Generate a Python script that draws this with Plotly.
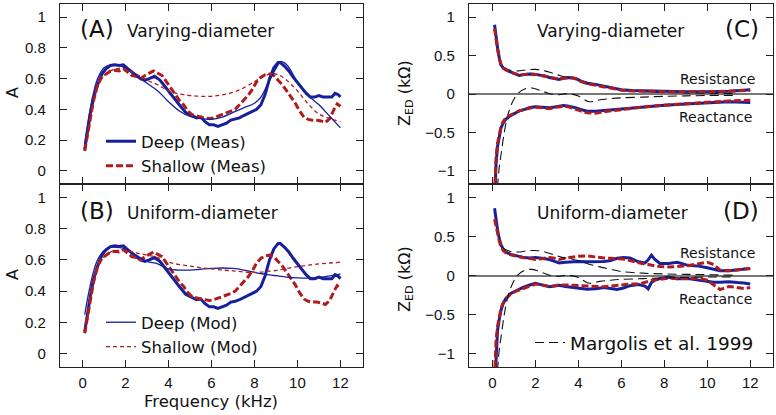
import plotly.graph_objects as go

W, H = 776, 415

# ---------------- Absorbance (panels A, B) ----------------
f_deep_meas = [0.1, 0.2, 0.35, 0.5, 0.7, 0.9, 1.1, 1.3, 1.5, 1.7, 1.9, 2.1, 2.3, 2.5, 2.7, 2.9,
               3.1, 3.35, 3.6, 3.9, 4.2, 4.5, 4.8, 5.1, 5.3, 5.5, 5.7, 5.9, 6.1, 6.3, 6.5, 6.7,
               6.9, 7.1, 7.3, 7.5, 7.7, 7.9, 8.1, 8.3, 8.5, 8.7, 8.9, 9.1, 9.2, 9.4, 9.6, 9.8,
               10.0, 10.2, 10.4, 10.6, 10.8, 11.0, 11.2, 11.4, 11.6, 11.75, 11.9, 12.0]
a_deep_meas = [0.14, 0.24, 0.36, 0.47, 0.56, 0.63, 0.665, 0.685, 0.69, 0.685, 0.69, 0.665, 0.64,
               0.62, 0.60, 0.59, 0.60, 0.615, 0.59, 0.535, 0.48, 0.43, 0.38, 0.36, 0.345, 0.35,
               0.32, 0.30, 0.30, 0.29, 0.30, 0.31, 0.33, 0.335, 0.345, 0.36, 0.375, 0.385, 0.40,
               0.43, 0.50, 0.60, 0.67, 0.705, 0.705, 0.68, 0.65, 0.61, 0.575, 0.54, 0.505, 0.48,
               0.48, 0.49, 0.48, 0.48, 0.48, 0.505, 0.495, 0.48]

f_shal_meas = [0.1, 0.2, 0.35, 0.5, 0.7, 0.9, 1.1, 1.3, 1.5, 1.7, 1.9, 2.1, 2.3, 2.5, 2.7, 2.9,
               3.1, 3.3, 3.5, 3.7, 3.9, 4.1, 4.3, 4.5, 4.7, 4.9, 5.1, 5.3, 5.5, 5.7, 5.9, 6.1,
               6.3, 6.5, 6.7, 6.9, 7.1, 7.3, 7.5, 7.7, 7.9, 8.1, 8.3, 8.5, 8.7, 8.9, 9.1, 9.3,
               9.5, 9.7, 9.9, 10.1, 10.3, 10.5, 10.7, 10.9, 11.1, 11.3, 11.5, 11.7, 11.85, 12.0]
a_shal_meas = [0.13, 0.2, 0.33, 0.45, 0.56, 0.61, 0.63, 0.65, 0.655, 0.65, 0.665, 0.64, 0.62,
               0.615, 0.60, 0.62, 0.635, 0.65, 0.635, 0.62, 0.58, 0.54, 0.50, 0.46, 0.43, 0.39,
               0.365, 0.355, 0.35, 0.345, 0.34, 0.345, 0.355, 0.37, 0.375, 0.385, 0.40, 0.43,
               0.46, 0.49, 0.53, 0.58, 0.61, 0.625, 0.63, 0.62, 0.59, 0.56, 0.52, 0.48, 0.44,
               0.39, 0.35, 0.335, 0.33, 0.33, 0.325, 0.315, 0.34, 0.40, 0.435, 0.42]

f_model = [0.1, 0.3, 0.5, 0.7, 1.0, 1.3, 1.6, 2.0, 2.5, 3.0, 3.5, 4.0, 4.5, 5.0, 5.5, 6.0,
           6.5, 7.0, 7.5, 8.0, 8.3, 8.6, 8.9, 9.1, 9.25, 9.5, 10.0, 10.5, 11.0, 11.5, 12.0]
a_deep_vary = [0.18, 0.36, 0.50, 0.60, 0.67, 0.69, 0.69, 0.67, 0.62, 0.57, 0.52, 0.45, 0.39,
               0.355, 0.34, 0.335, 0.35, 0.38, 0.41, 0.44, 0.48, 0.56, 0.64, 0.69, 0.71, 0.69,
               0.58, 0.49, 0.43, 0.355, 0.28]
a_shal_vary = [0.14, 0.30, 0.44, 0.55, 0.62, 0.65, 0.665, 0.66, 0.63, 0.59, 0.56, 0.52, 0.50,
               0.49, 0.485, 0.485, 0.495, 0.51, 0.54, 0.58, 0.605, 0.625, 0.632, 0.625, 0.615,
               0.59, 0.52, 0.435, 0.37, 0.34, 0.32]
a_deep_unif = [0.25, 0.40, 0.52, 0.60, 0.66, 0.68, 0.68, 0.67, 0.63, 0.59, 0.575, 0.54, 0.535,
               0.535, 0.54, 0.545, 0.548, 0.545, 0.535, 0.52, 0.512, 0.505, 0.5, 0.497, 0.495,
               0.49, 0.485, 0.483, 0.487, 0.497, 0.51]
a_shal_unif = [0.14, 0.30, 0.44, 0.55, 0.62, 0.65, 0.66, 0.66, 0.645, 0.63, 0.615, 0.585, 0.57,
               0.56, 0.55, 0.543, 0.535, 0.53, 0.523, 0.52, 0.522, 0.526, 0.53, 0.534, 0.537,
               0.545, 0.557, 0.566, 0.574, 0.58, 0.585]

# ---------------- Impedance Z_ED (panels C, D), kOhm ----------------
f_z = [0.1, 0.17, 0.24, 0.32, 0.4, 0.5, 0.62, 0.8, 1.0, 1.25, 1.5, 1.75, 2.0, 2.2, 2.45, 2.65,
       2.9, 3.1, 3.3, 3.5, 3.7, 3.9, 4.1, 4.4, 4.8, 5.2, 5.6, 6.0, 6.5, 7.0, 8.0, 9.0, 10.0,
       11.0, 12.0]
r_deep_vary = [0.90, 0.72, 0.60, 0.47, 0.38, 0.34, 0.315, 0.29, 0.27, 0.24, 0.255, 0.26, 0.255,
               0.25, 0.235, 0.215, 0.20, 0.19, 0.205, 0.215, 0.21, 0.20, 0.17, 0.14, 0.125, 0.10,
               0.075, 0.055, 0.045, 0.04, 0.035, 0.03, 0.03, 0.035, 0.055]
r_shal_vary = [0.85, 0.70, 0.58, 0.46, 0.38, 0.34, 0.315, 0.29, 0.27, 0.245, 0.255, 0.26, 0.255,
               0.245, 0.23, 0.215, 0.205, 0.195, 0.205, 0.21, 0.21, 0.195, 0.165, 0.135, 0.115,
               0.095, 0.07, 0.05, 0.04, 0.035, 0.03, 0.03, 0.03, 0.035, 0.05]
x_deep_vary = [-1.45, -0.90, -0.68, -0.55, -0.44, -0.38, -0.33, -0.29, -0.26, -0.22, -0.20,
               -0.175, -0.165, -0.17, -0.18, -0.18, -0.17, -0.16, -0.15, -0.155, -0.165, -0.18,
               -0.20, -0.225, -0.225, -0.215, -0.205, -0.19, -0.18, -0.165, -0.145, -0.13,
               -0.115, -0.10, -0.11]
x_shal_vary = [-1.30, -0.82, -0.64, -0.52, -0.42, -0.36, -0.31, -0.28, -0.25, -0.22, -0.20,
               -0.18, -0.17, -0.175, -0.185, -0.19, -0.175, -0.165, -0.16, -0.165, -0.18, -0.20,
               -0.22, -0.245, -0.25, -0.23, -0.215, -0.2, -0.185, -0.17, -0.145, -0.125,
               -0.105, -0.09, -0.08]

f_zu = [0.1, 0.17, 0.24, 0.32, 0.4, 0.5, 0.62, 0.85, 1.1, 1.4, 1.7, 2.0, 2.3, 2.65, 2.9, 3.1,
        3.4, 3.7, 4.0, 4.4, 4.8, 5.2, 5.5, 5.8, 6.1, 6.4, 6.8, 7.1, 7.25, 7.4, 7.55, 7.8, 8.2,
        8.6, 9.1, 9.6, 10.0, 10.3, 10.6, 11.0, 11.4, 11.7, 12.0]
r_deep_unif = [0.86, 0.70, 0.58, 0.47, 0.39, 0.34, 0.30, 0.27, 0.25, 0.235, 0.225, 0.23, 0.22,
               0.205, 0.18, 0.16, 0.17, 0.175, 0.18, 0.175, 0.175, 0.18, 0.19, 0.22, 0.23,
               0.225, 0.175, 0.16, 0.20, 0.26, 0.21, 0.155, 0.155, 0.17, 0.13, 0.12, 0.10,
               0.08, 0.06, 0.06, 0.075, 0.08, 0.09]
r_shal_unif = [0.72, 0.62, 0.54, 0.44, 0.37, 0.32, 0.29, 0.265, 0.25, 0.23, 0.22, 0.205, 0.215,
               0.23, 0.22, 0.205, 0.22, 0.235, 0.245, 0.25, 0.235, 0.225, 0.22, 0.215, 0.21,
               0.19, 0.16, 0.145, 0.14, 0.13, 0.125, 0.115, 0.11, 0.115, 0.125, 0.15, 0.17,
               0.14, 0.07, 0.06, 0.07, 0.075, 0.09]
x_deep_unif = [-1.45, -0.95, -0.70, -0.56, -0.445, -0.36, -0.295, -0.23, -0.195, -0.155, -0.125,
               -0.10, -0.12, -0.145, -0.135, -0.125, -0.14, -0.15, -0.16, -0.175, -0.17, -0.155,
               -0.165, -0.18, -0.16, -0.13, -0.115, -0.135, -0.17, -0.09, -0.06, -0.04, -0.02,
               -0.04, -0.04, -0.06, -0.08, -0.085, -0.085, -0.08, -0.09, -0.095, -0.11]
x_shal_unif = [-1.30, -0.83, -0.65, -0.52, -0.42, -0.35, -0.30, -0.235, -0.2, -0.17, -0.14,
               -0.11, -0.12, -0.14, -0.13, -0.12, -0.12, -0.125, -0.13, -0.14, -0.145, -0.145,
               -0.135, -0.125, -0.12, -0.11, -0.11, -0.09, -0.075, -0.065, -0.055, -0.05,
               -0.035, -0.04, -0.04, -0.035, -0.06, -0.12, -0.18, -0.14, -0.155, -0.165, -0.155]

f_marg_r = [0.5, 0.8, 1.2, 1.6, 2.0, 2.4, 2.8, 3.2, 3.6, 4.0, 4.5, 5.0, 5.5, 6.0, 7.0, 8.0,
            9.0, 10.0, 11.2]
r_marg = [0.35, 0.31, 0.30, 0.315, 0.32, 0.305, 0.27, 0.235, 0.215, 0.19, 0.145, 0.11, 0.08,
          0.05, 0.03, 0.02, 0.015, 0.01, 0.005]
f_marg_x = [0.2, 0.3, 0.4, 0.56, 0.72, 0.95, 1.2, 1.5, 1.85, 2.2, 2.6, 3.0, 3.5, 4.0, 4.5, 5.0,
            5.5, 6.0, 7.0, 8.0, 9.0, 10.0, 11.2]
x_marg = [-1.4, -1.0, -0.79, -0.485, -0.27, -0.095, 0.01, 0.065, 0.078, 0.05, 0.01, -0.01,
          0.005, -0.025, -0.10, -0.075, -0.06, -0.05, -0.04, -0.03, -0.025, -0.02, -0.02]

x_ticks = [0, 2, 4, 6, 8, 10, 12]
a_ticks = [0, 0.2, 0.4, 0.6, 0.8, 1]
a_ticktext = ["0", "0.2", "0.4", "0.6", "0.8", "1"]
z_ticks = [-1, -0.5, 0, 0.5, 1]
z_ticktext = ["\u22121", "\u22120.5", "0", "0.5", "1"]

BLUE = "#16209c"
RED = "#b01c1c"
BLACK = "#111111"
FONT = "DejaVu Sans"
TFONT = "Liberation Sans"


def px(x):
    return x / W


def py(y):
    return 1 - y / H


fig = go.Figure()


def add(x, y, ax, color, width, dash="solid", name=None, legend=None, shape="linear"):
    fig.add_trace(go.Scatter(
        x=x, y=y, mode="lines", xaxis="x" + ax, yaxis="y" + ax,
        line=dict(color=color, width=width, dash=dash, shape=shape),
        name=name if name else "", showlegend=bool(name),
        legend=legend if legend else "legend", hoverinfo="skip"))


THICK = 3
THIN = 1.3
DASH_THICK = "7px,3px"
DASH_THIN = "4px,3px"
DASH_BLACK = "9px,5px"

# Panel A
add(f_deep_meas, a_deep_meas, "", BLUE, THICK, name="Deep (Meas)", legend="legend")
add(f_shal_meas, a_shal_meas, "", RED, THICK, DASH_THICK, name="Shallow (Meas)", legend="legend")
add(f_model, a_deep_vary, "", BLUE, THIN, shape="spline")
add(f_model, a_shal_vary, "", RED, THIN, DASH_THIN, shape="spline")
# Panel B
add(f_deep_meas, a_deep_meas, "2", BLUE, THICK)
add(f_shal_meas, a_shal_meas, "2", RED, THICK, DASH_THICK)
add(f_model, a_deep_unif, "2", BLUE, THIN, name="Deep (Mod)", legend="legend2", shape="spline")
add(f_model, a_shal_unif, "2", RED, THIN, DASH_THIN, name="Shallow (Mod)", legend="legend2", shape="spline")
# Panel C
add(f_marg_r, r_marg, "3", BLACK, 1.1, DASH_BLACK, shape="spline")
add(f_marg_x, x_marg, "3", BLACK, 1.1, DASH_BLACK, shape="spline")
add(f_z, r_deep_vary, "3", BLUE, THICK)
add(f_z, x_deep_vary, "3", BLUE, THICK)
add(f_z, r_shal_vary, "3", RED, THICK, DASH_THICK)
add(f_z, x_shal_vary, "3", RED, THICK, DASH_THICK)
# Panel D
add(f_zu, r_deep_unif, "4", BLUE, THICK)
add(f_zu, x_deep_unif, "4", BLUE, THICK)
add(f_zu, r_shal_unif, "4", RED, THICK, DASH_THICK)
add(f_zu, x_shal_unif, "4", RED, THICK, DASH_THICK)
add(f_marg_r, r_marg, "4", BLACK, 1.1, DASH_BLACK, name="Margolis et al. 1999", legend="legend3", shape="spline")
add(f_marg_x, x_marg, "4", BLACK, 1.1, DASH_BLACK, shape="spline")

common = dict(showline=True, linecolor="#222", linewidth=1.3, mirror="ticks",
              ticks="inside", ticklen=7, tickwidth=1.3, tickcolor="#222",
              showgrid=False,
              tickfont=dict(family=TFONT, size=15, color="#111"))

XL = [px(60), px(363)]
XR = [px(469), px(773)]
YT = [py(184), py(4)]
YB = [py(367), py(184)]

layout = dict(
    width=W, height=H, margin=dict(l=0, r=0, t=0, b=0),
    paper_bgcolor="white", plot_bgcolor="white",
    xaxis=dict(domain=XL, anchor="y", range=[-1.05, 13.05], tickvals=x_ticks,
               showticklabels=False, zeroline=False, **common),
    yaxis=dict(domain=YT, anchor="x", range=[-0.085, 1.085], tickvals=a_ticks,
               ticktext=a_ticktext, ticklabelstandoff=10, zeroline=False, **common),
    xaxis2=dict(domain=XL, anchor="y2", range=[-1.05, 13.05], tickvals=x_ticks,
                ticklabelstandoff=2, zeroline=False, **common),
    yaxis2=dict(domain=YB, anchor="x2", range=[-0.085, 1.085], tickvals=a_ticks,
                ticktext=a_ticktext, ticklabelstandoff=10, zeroline=False, **common),
    xaxis3=dict(domain=XR, anchor="y3", range=[-1.09, 13.06], tickvals=x_ticks,
                showticklabels=False, zeroline=False, **common),
    yaxis3=dict(domain=YT, anchor="x3", range=[-1.17, 1.17], tickvals=z_ticks,
                ticktext=z_ticktext, ticklabelstandoff=10, zeroline=True,
                zerolinecolor="#777", zerolinewidth=1.5, **common),
    xaxis4=dict(domain=XR, anchor="y4", range=[-1.09, 13.06], tickvals=x_ticks,
                ticklabelstandoff=2, zeroline=False, **common),
    yaxis4=dict(domain=YB, anchor="x4", range=[-1.17, 1.17], tickvals=z_ticks,
                ticktext=z_ticktext, ticklabelstandoff=10, zeroline=True,
                zerolinecolor="#777", zerolinewidth=1.5, **common),
    legend=dict(x=px(101), y=py(124), xanchor="left", yanchor="top",
                bgcolor="rgba(0,0,0,0)", font=dict(family=FONT, size=16.5, color="#111"),
                tracegroupgap=0, itemwidth=30),
    legend2=dict(x=px(101), y=py(305), xanchor="left", yanchor="top",
                 bgcolor="rgba(0,0,0,0)", font=dict(family=FONT, size=16.5, color="#111"),
                 tracegroupgap=0, itemwidth=30),
    legend3=dict(x=px(530), y=py(324), xanchor="left", yanchor="top",
                 bgcolor="rgba(0,0,0,0)", font=dict(family=FONT, size=18.5, color="#111"),
                 tracegroupgap=0, itemwidth=30),
)
fig.update_layout(**layout)


def ann(text, x, y, size, xanchor="center", angle=0, family=FONT):
    fig.add_annotation(text=text, x=px(x), y=py(y), xref="paper", yref="paper",
                       xanchor=xanchor, yanchor="middle", showarrow=False, textangle=angle,
                       font=dict(family=family, size=size, color="#111"))


ann("(A)", 78, 29, 23, "left")
ann("Varying-diameter", 125, 31, 17, "left")
ann("(B)", 78, 211, 23, "left")
ann("Uniform-diameter", 125, 213, 17, "left")
ann("(C)", 761, 29, 23, "right")
ann("Varying-diameter", 535, 31, 17, "left")
ann("(D)", 761, 211, 23, "right")
ann("Uniform-diameter", 535, 213, 17, "left")
ann("Resistance", 757, 79, 14, "right")
ann("Reactance", 754, 117, 14, "right")
ann("Resistance", 757, 253, 14, "right")
ann("Reactance", 754, 299, 14, "right")
ann("A", 12, 93, 16, angle=-90)
ann("A", 12, 275, 16, angle=-90)
ann("Z<sub>ED</sub> (k\u03a9)", 405, 93, 16, angle=-90)
ann("Z<sub>ED</sub> (k\u03a9)", 405, 279, 16, angle=-90)
ann("Frequency (kHz)", 211, 401, 16.5)

# the browser's default 8 px body margin would shift the whole figure; remove it
fig.write_html("out.html", config={"displayModeBar": False},
               post_script="document.body.style.margin='0px';")
